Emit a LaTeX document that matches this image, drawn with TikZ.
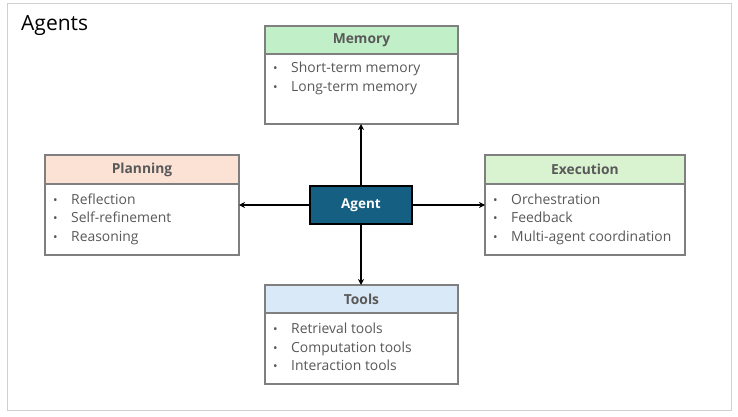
\documentclass[tikz,border=0pt]{standalone}
\usepackage{fontspec}
\setmainfont{Open Sans}
\usetikzlibrary{arrows.meta}
\definecolor{txt}{HTML}{595959}
\definecolor{bord}{HTML}{7F7F7F}
\definecolor{memhd}{HTML}{C1F0C8}
\definecolor{planhd}{HTML}{FBE2D5}
\definecolor{exehd}{HTML}{D9F2D0}
\definecolor{toolhd}{HTML}{DAE9F8}
\definecolor{agentfill}{HTML}{156082}
\newcommand{\bul}[1]{\makebox[18pt][l]{{\fontsize{12}{14}\selectfont\textbullet}}#1}
\tikzset{
  box/.style={draw=bord, line width=1.6pt, fill=white},
  hd/.style={draw=bord, line width=1.6pt},
  hdtext/.style={font=\fontsize{13.8}{15}\selectfont\bfseries, text=txt},
  item/.style={anchor=base west, inner sep=0pt, text=txt, font=\fontsize{13.9}{16}\selectfont},
  conn/.style={line width=1.4pt, -{Stealth[length=6pt,width=6pt]}},
}
\begin{document}
\begin{tikzpicture}[x=1pt,y=-1pt]
\useasboundingbox (0,0) rectangle (738,417);
\draw[draw=black!18, line width=1pt] (7,4) rectangle (731,410);
\node[anchor=west, font=\fontsize{21}{24}\selectfont, inner sep=0pt] (title) at (21,25) {Agents};

% Memory
\draw[box] (265,26) rectangle (458,124);
\draw[hd, fill=memhd] (265,26) rectangle (458,54);
\node[hdtext] (memt) at (361.5,40) {Memory};
\node[item] (m1) at (273,73) {\bul{Short-term memory}};
\node[item] (m2) at (273,92) {\bul{Long-term memory}};
\coordinate (memb) at (361,124);

% Planning
\draw[box] (45,155) rectangle (239,255);
\draw[hd, fill=planhd] (45,155) rectangle (239,184);
\node[hdtext] (plant) at (142,169.5) {Planning};
\node[item] (p1) at (53,204) {\bul{Reflection}};
\node[item] (p2) at (53,222.5) {\bul{Self-refinement}};
\node[item] (p3) at (53,241) {\bul{Reasoning}};
\coordinate (planr) at (239,205);

% Execution
\draw[box] (485,155) rectangle (685,255);
\draw[hd, fill=exehd] (485,155) rectangle (685,184);
\node[hdtext] (exet) at (585,169.5) {Execution};
\node[item] (e1) at (493,204) {\bul{Orchestration}};
\node[item] (e2) at (493,222.5) {\bul{Feedback}};
\node[item] (e3) at (493,241) {\bul{Multi-agent coordination}};
\coordinate (exel0) at (485,205);

% Tools
\draw[box] (265,285) rectangle (458,384);
\draw[hd, fill=toolhd] (265,285) rectangle (458,313);
\node[hdtext] (toolt) at (361.5,299) {Tools};
\node[item] (t1) at (273,333) {\bul{Retrieval tools}};
\node[item] (t2) at (273,352) {\bul{Computation tools}};
\node[item] (t3) at (273,370) {\bul{Interaction tools}};
\coordinate (toolt0) at (361,285);

% Agent
\node[draw=black, line width=1.4pt, fill=agentfill, minimum width=102pt, minimum height=38pt, inner sep=0pt, text=white, font=\fontsize{13.5}{15}\selectfont\bfseries] (agent) at (361,205) {Agent};

\draw[conn] (agent.north) -- (memb);
\draw[conn] (agent.south) -- (toolt0);
\draw[conn] (agent.west) -- (planr);
\draw[conn] (agent.east) -- (exel0);
\end{tikzpicture}
\end{document}
